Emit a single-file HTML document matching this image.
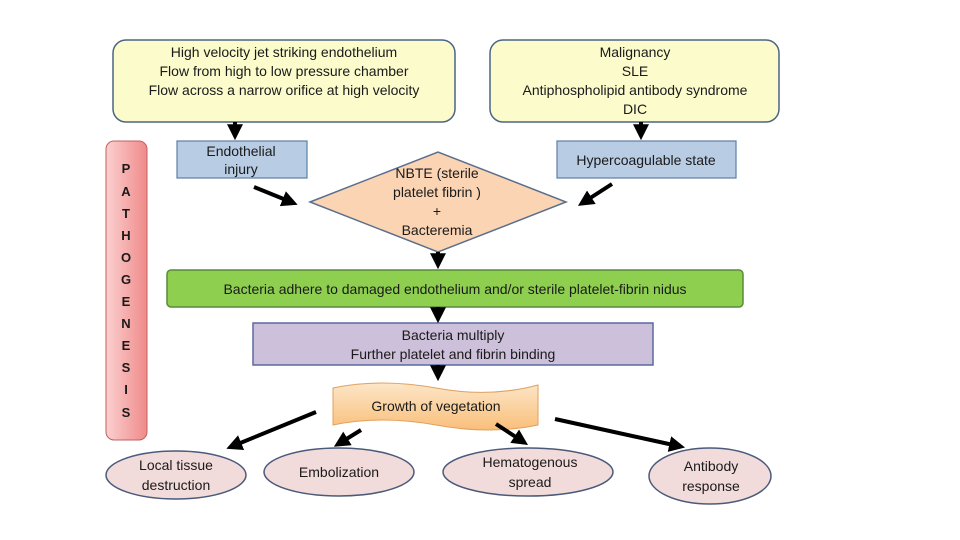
<!DOCTYPE html>
<html><head><meta charset="utf-8"><style>
body{margin:0;background:#fff}
svg{display:block}
text{font-family:"Liberation Sans",sans-serif;fill:#1a1a1a;text-anchor:middle}
</style></head><body>
<svg width="960" height="540" viewBox="0 0 960 540" xmlns="http://www.w3.org/2000/svg">
<defs>
<marker id="a" markerWidth="4" markerHeight="4" refX="2.2" refY="2" orient="auto" markerUnits="strokeWidth"><path d="M0,0 L4,2 L0,4 z" fill="#000"/></marker>
<linearGradient id="pk" x1="0" x2="1"><stop offset="0" stop-color="#fbd0d0"/><stop offset="1" stop-color="#f08a8a"/></linearGradient>
<linearGradient id="or" x1="0" y1="0" x2="0" y2="1"><stop offset="0" stop-color="#fde6c8"/><stop offset="1" stop-color="#f9bf7a"/></linearGradient>
</defs>
<rect x="113" y="40" width="342" height="82" rx="13" fill="#fbfbcc" stroke="#4b6584" stroke-width="1.5"/>
<text font-size="14" x="284" y="57">High velocity jet striking endothelium</text>
<text font-size="14" x="284" y="76">Flow from high to low pressure chamber</text>
<text font-size="14" x="284" y="95">Flow across a narrow orifice at high velocity</text>
<rect x="490" y="40" width="289" height="82" rx="13" fill="#fbfbcc" stroke="#4b6584" stroke-width="1.5"/>
<text font-size="14" x="635" y="57">Malignancy</text>
<text font-size="14" x="635" y="76">SLE</text>
<text font-size="14" x="635" y="95">Antiphospholipid antibody syndrome</text>
<text font-size="14" x="635" y="114">DIC</text>
<rect x="177" y="141" width="130" height="37" fill="#b8cce4" stroke="#5a7fa8" stroke-width="1.2"/>
<text font-size="14" x="241" y="156">Endothelial</text>
<text font-size="14" x="241" y="174">injury</text>
<rect x="557" y="141" width="179" height="37" fill="#b8cce4" stroke="#5a7fa8" stroke-width="1.2"/>
<text font-size="14" x="646" y="165">Hypercoagulable state</text>
<rect x="106" y="141" width="41" height="299" rx="8" fill="url(#pk)" stroke="#c06060" stroke-width="1"/>
<g font-size="13" font-weight="bold">
<text x="126" y="173">P</text><text x="126" y="196">A</text><text x="126" y="218">T</text><text x="126" y="240">H</text><text x="126" y="262">O</text><text x="126" y="284">G</text><text x="126" y="306">E</text><text x="126" y="328">N</text><text x="126" y="350">E</text><text x="126" y="372">S</text><text x="126" y="394">I</text><text x="126" y="417">S</text>
</g>
<polygon points="310,202 438,152 566,202 438,252" fill="#fbd4b4" stroke="#5b6f8c" stroke-width="1.5"/>
<text font-size="14" x="437" y="178">NBTE (sterile</text>
<text font-size="14" x="437" y="197">platelet fibrin )</text>
<text font-size="14" x="437" y="216">+</text>
<text font-size="14" x="437" y="235">Bacteremia</text>
<rect x="167" y="270" width="576" height="37" rx="4" fill="#8fcf50" stroke="#5a8a3a" stroke-width="1.5"/>
<text font-size="14" x="455" y="294">Bacteria adhere to damaged endothelium and/or sterile platelet-fibrin nidus</text>
<rect x="253" y="323" width="400" height="42" fill="#ccc0da" stroke="#5a6aa0" stroke-width="1.5"/>
<text font-size="14" x="453" y="340">Bacteria multiply</text>
<text font-size="14" x="453" y="359">Further  platelet and fibrin binding</text>
<path d="M333,388 Q380,378 436,388 Q490,398 538,385 L538,425 Q490,435 436,425 Q380,415 333,425 Z" fill="url(#or)" stroke="#e0a060" stroke-width="1"/>
<text font-size="14" x="436" y="411">Growth of vegetation</text>
<g fill="#f2dcdb" stroke="#4a5a7a" stroke-width="1.5">
<ellipse cx="176" cy="475" rx="70" ry="24"/>
<ellipse cx="339" cy="472" rx="75" ry="24"/>
<ellipse cx="528" cy="472" rx="85" ry="24"/>
<ellipse cx="710" cy="476" rx="61" ry="28"/>
</g>
<text font-size="14" x="176" y="470">Local tissue</text>
<text font-size="14" x="176" y="490">destruction</text>
<text font-size="14" x="339" y="477">Embolization</text>
<text font-size="14" x="530" y="467">Hematogenous</text>
<text font-size="14" x="530" y="487">spread</text>
<text font-size="14" x="711" y="471">Antibody</text>
<text font-size="14" x="711" y="491">response</text>
<g stroke="#000" stroke-width="4" marker-end="url(#a)">
<line x1="235" y1="122" x2="235" y2="133"/>
<line x1="641" y1="122" x2="641" y2="133"/>
<line x1="254" y1="187" x2="291" y2="202"/>
<line x1="612" y1="184" x2="584" y2="202"/>
<line x1="438" y1="252" x2="438" y2="262"/>
<line x1="438" y1="307" x2="438" y2="316"/>
<line x1="438" y1="365" x2="438" y2="374"/>
<line x1="316" y1="412" x2="233" y2="446"/>
<line x1="361" y1="430" x2="340" y2="443"/>
<line x1="496" y1="424" x2="522" y2="441"/>
<line x1="555" y1="419" x2="678" y2="446"/>
</g>
</svg>
</body></html>
